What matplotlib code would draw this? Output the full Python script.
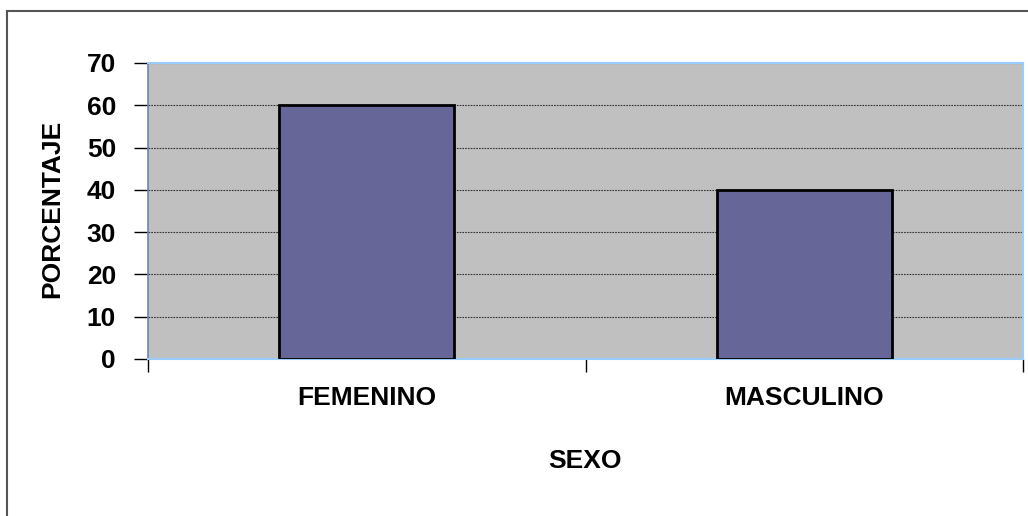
import matplotlib
matplotlib.use("Agg")
import matplotlib.pyplot as plt
from matplotlib.lines import Line2D
from matplotlib import font_manager

categories = ["FEMENINO", "MASCULINO"]
percentages = [60, 40]
y_ticks = [0, 10, 20, 30, 40, 50, 60, 70]

names = {f.name for f in font_manager.fontManager.ttflist}
narrow = "Liberation Sans Narrow" if "Liberation Sans Narrow" in names else "Liberation Sans"
plt.rcParams["font.family"] = [narrow, "DejaVu Sans"]
plt.rcParams["font.weight"] = "bold"

W, H = 1028, 516
fig = plt.figure(figsize=(W / 100, H / 100), dpi=100)
fig.patch.set_facecolor("white")

# outer chart frame (left and top edges visible)
fig.add_artist(Line2D([7 / W, 7 / W], [0, 1 - 11 / H], transform=fig.transFigure,
                      color="#555555", lw=1.5))
fig.add_artist(Line2D([7 / W, 1], [1 - 11 / H, 1 - 11 / H], transform=fig.transFigure,
                      color="#555555", lw=1.5))

left, right, top, bottom = 148, 1023, 63, 359
ax = fig.add_axes([left / W, 1 - bottom / H, (right - left) / W, (bottom - top) / H])
ax.set_facecolor("#C0C0C0")

x = range(len(categories))
ax.bar(x, percentages, width=0.4, color="#666699", edgecolor="black", linewidth=2, zorder=3)

ax.set_xlim(-0.5, len(categories) - 0.5)
ax.set_ylim(0, 70)
ax.set_yticks(y_ticks)
ax.set_yticklabels([str(v) for v in y_ticks], fontsize=19, fontweight="bold")
ax.set_xticks([-0.5, 0.5, 1.5])
ax.set_xticklabels([])
ax.tick_params(axis="x", length=9, width=1, color="black", direction="out")
ax.tick_params(axis="y", length=10, width=1, color="black", direction="out", pad=13)

for c, xi in zip(categories, x):
    ax.text(xi, -0.09, c, transform=ax.get_xaxis_transform(), ha="center", va="top",
            fontsize=19, fontweight="bold")

ax.yaxis.grid(True, color="#333333", linestyle=(0, (1.5, 1)), linewidth=0.8, zorder=1)
ax.set_axisbelow(True)

for side in ["top", "right", "bottom"]:
    ax.spines[side].set_color("#99CCFF")
    ax.spines[side].set_linewidth(1.5)
ax.spines["left"].set_color("#6688BB")
ax.spines["left"].set_linewidth(1.2)

fig.text(585 / W, 1 - 461 / H, "SEXO", ha="center", va="center", fontsize=19, fontweight="bold")
fig.text(52 / W, 1 - 209 / H, "PORCENTAJE", ha="center", va="center", rotation=90,
         fontsize=19, fontweight="bold")

fig.savefig("out.png", dpi=100)
